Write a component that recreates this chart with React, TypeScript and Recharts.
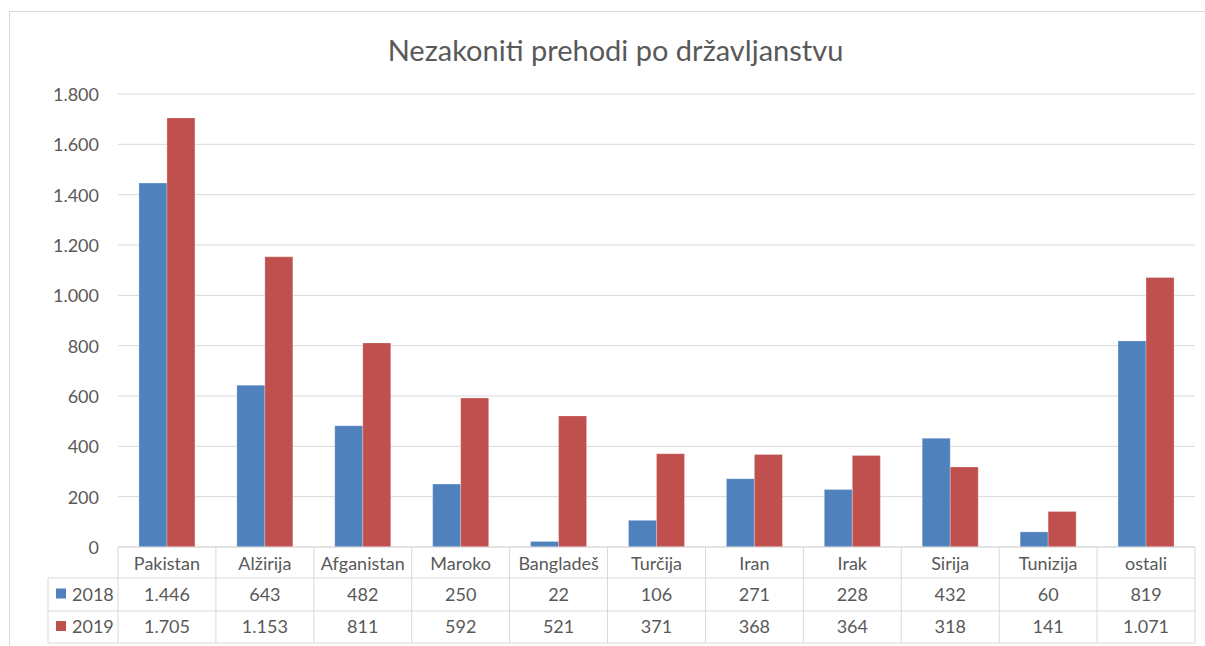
import React from "react";
import { BarChart, Bar, XAxis, YAxis, CartesianGrid } from "recharts";

const categories = ["Pakistan", "Alžirija", "Afganistan", "Maroko", "Bangladeš", "Turčija", "Iran", "Irak", "Sirija", "Tunizija", "ostali"];
const values2018 = [1446, 643, 482, 250, 22, 106, 271, 228, 432, 60, 819];
const values2019 = [1705, 1153, 811, 592, 521, 371, 368, 364, 318, 141, 1071];
const yTicks = [0, 200, 400, 600, 800, 1000, 1200, 1400, 1600, 1800];
const seriesNames = ["2018", "2019"];

const COLORS = ["#4F81BD", "#C0504D"];
const TEXT = "#595959";
const GRID = "#D9D9D9";
const FONT = "Lato, 'Open Sans', sans-serif";
const FS = 18;

const W = 1205;
const H = 646;
const PLOT_LEFT = 118;
const PLOT_RIGHT = 1195;
const PLOT_TOP = 94;
const AXIS_Y = 547;
const ROW1 = 578;
const ROW2 = 611;
const ROW3 = 643;
const LEGEND_LEFT = 48;

const data = categories.map((c, i) => ({ name: c, v2018: values2018[i], v2019: values2019[i] }));

function fmt(n: number): string {
  const s = String(Math.round(n));
  return s.replace(/\B(?=(\d{3})+(?!\d))/g, ".");
}

const bandW = (PLOT_RIGHT - PLOT_LEFT) / categories.length;

function TableTick(props: any) {
  const { x, payload, index } = props;
  const i = payload && typeof payload.index === "number" ? payload.index : index;
  const left = x - bandW / 2;
  const right = x + bandW / 2;
  const rows = [values2018, values2019];
  return (
    <g>
      <line x1={left} y1={AXIS_Y} x2={left} y2={ROW3} stroke={GRID} strokeWidth={1} />
      {i === categories.length - 1 && (
        <line x1={right} y1={AXIS_Y} x2={right} y2={ROW3} stroke={GRID} strokeWidth={1} />
      )}
      <line x1={left} y1={ROW1} x2={right} y2={ROW1} stroke={GRID} strokeWidth={1} />
      <line x1={left} y1={ROW2} x2={right} y2={ROW2} stroke={GRID} strokeWidth={1} />
      <line x1={left} y1={ROW3} x2={right} y2={ROW3} stroke={GRID} strokeWidth={1} />
      <text x={x} y={(AXIS_Y + ROW1) / 2} textAnchor="middle" dominantBaseline="central" fill={TEXT} fontSize={FS} fontFamily={FONT}>
        {payload.value}
      </text>
      {rows.map((r, k) => (
        <text key={k} x={x} y={k === 0 ? (ROW1 + ROW2) / 2 - 1 : (ROW2 + ROW3) / 2 - 1} textAnchor="middle" dominantBaseline="central" fill={TEXT} fontSize={FS} fontFamily={FONT}>
          {fmt(r[i])}
        </text>
      ))}
      {i === 0 && (
        <g>
          <line x1={LEGEND_LEFT} y1={ROW1} x2={left} y2={ROW1} stroke={GRID} strokeWidth={1} />
          <line x1={LEGEND_LEFT} y1={ROW2} x2={left} y2={ROW2} stroke={GRID} strokeWidth={1} />
          <line x1={LEGEND_LEFT} y1={ROW3} x2={left} y2={ROW3} stroke={GRID} strokeWidth={1} />
          <line x1={LEGEND_LEFT} y1={ROW1} x2={LEGEND_LEFT} y2={ROW3} stroke={GRID} strokeWidth={1} />
          {seriesNames.map((s, k) => {
            const cy = k === 0 ? (ROW1 + ROW2) / 2 - 1 : (ROW2 + ROW3) / 2 - 1;
            return (
              <g key={s}>
                <rect x={56} y={cy - 5} width={10} height={10} fill={COLORS[k]} />
                <text x={72} y={cy} dominantBaseline="central" fill={TEXT} fontSize={FS} fontFamily={FONT}>
                  {s}
                </text>
              </g>
            );
          })}
        </g>
      )}
    </g>
  );
}

function YTick(props: any) {
  const { y, payload } = props;
  return (
    <text x={99} y={y} textAnchor="end" dominantBaseline="central" fill={TEXT} fontSize={FS} fontFamily={FONT}>
      {fmt(payload.value)}
    </text>
  );
}

export default function App() {
  return (
    <div style={{ position: "absolute", left: 0, top: 0, width: W, height: H, background: "#fff", overflow: "hidden" }}>
      <div
        style={{
          position: "absolute",
          left: 9,
          top: 11,
          width: W,
          height: H,
          borderTop: "1px solid #D9D9D9",
          borderLeft: "1px solid #D9D9D9",
          boxSizing: "border-box",
        }}
      />
      <div
        style={{
          position: "absolute",
          left: 0,
          width: 1231,
          top: 30,
          textAlign: "center",
          fontFamily: FONT,
          fontSize: 29,
          color: TEXT,
          lineHeight: "40px",
        }}
      >
        Nezakoniti prehodi po državljanstvu
      </div>
      <div style={{ position: "absolute", left: 0, top: 0 }}>
        <BarChart
          width={W}
          height={H}
          data={data}
          margin={{ top: PLOT_TOP, right: W - PLOT_RIGHT, left: 0, bottom: H - ROW3 }}
          barCategoryGap="21.4%"
          barGap={0}
        >
          <CartesianGrid vertical={false} stroke={GRID} strokeWidth={1} />
          <XAxis
            dataKey="name"
            height={ROW3 - AXIS_Y}
            axisLine={{ stroke: GRID }}
            tickLine={false}
            interval={0}
            tick={<TableTick />}
          />
          <YAxis
            width={PLOT_LEFT}
            domain={[0, 1800]}
            ticks={yTicks}
            axisLine={false}
            tickLine={false}
            tick={<YTick />}
          />
          <Bar dataKey="v2018" name="2018" fill={COLORS[0]} stroke="rgba(255,255,255,0.25)" strokeWidth={1} isAnimationActive={false} />
          <Bar dataKey="v2019" name="2019" fill={COLORS[1]} stroke="rgba(255,255,255,0.25)" strokeWidth={1} isAnimationActive={false} />
        </BarChart>
      </div>
    </div>
  );
}
